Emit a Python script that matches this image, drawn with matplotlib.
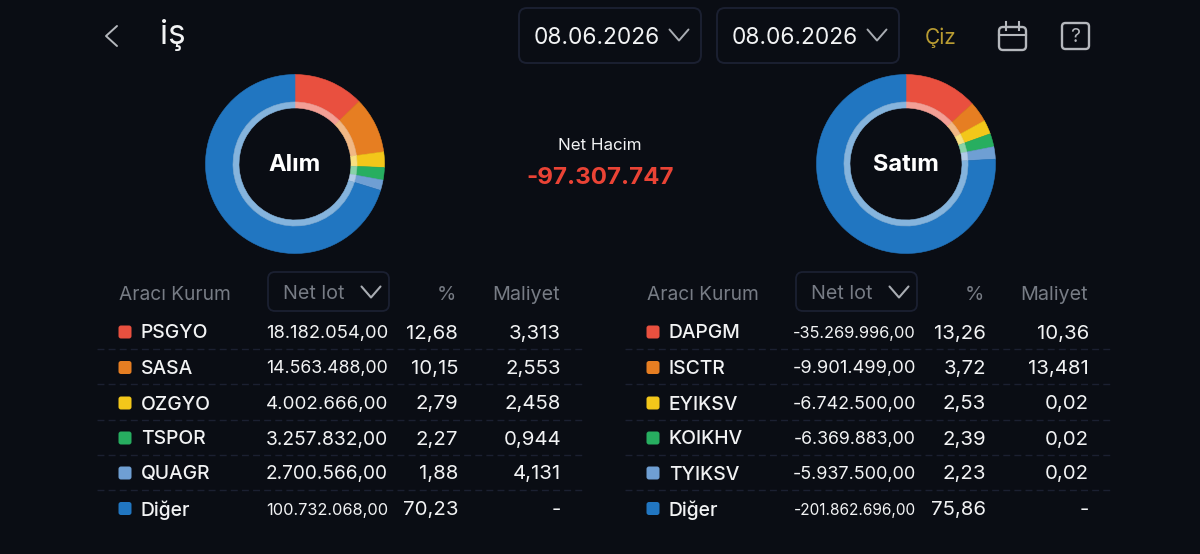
import matplotlib
matplotlib.use("Agg")
import matplotlib.pyplot as plt
from matplotlib.colors import to_rgb
from matplotlib.patches import FancyBboxPatch

plt.rcParams["font.family"] = ["Inter", "DejaVu Sans"]

BG = "#0a0d14"
BORDER = "#1b2031"
GREY = "#777c85"
WHITE = "#f2f3f4"

colors = ["#e9503f", "#e67e22", "#f3c71a", "#27ae60", "#6f9fd3", "#2176c1"]

buy_names = ["PSGYO", "SASA", "OZGYO", "TSPOR", "QUAGR", "Diğer"]
buy_lots = ["18.182.054,00", "14.563.488,00", "4.002.666,00", "3.257.832,00", "2.700.566,00", "100.732.068,00"]
buy_pct_labels = ["12,68", "10,15", "2,79", "2,27", "1,88", "70,23"]
buy_pct = [12.68, 10.15, 2.79, 2.27, 1.88, 70.23]
buy_cost = ["3,313", "2,553", "2,458", "0,944", "4,131", "-"]

sell_names = ["DAPGM", "ISCTR", "EYIKSV", "KOIKHV", "TYIKSV", "Diğer"]
sell_lots = ["-35.269.996,00", "-9.901.499,00", "-6.742.500,00", "-6.369.883,00", "-5.937.500,00", "-201.862.696,00"]
sell_pct_labels = ["13,26", "3,72", "2,53", "2,39", "2,23", "75,86"]
sell_pct = [13.26, 3.72, 2.53, 2.39, 2.23, 75.86]
sell_cost = ["10,36", "13,481", "0,02", "0,02", "0,02", "-"]

W, H = 1200, 554
fig = plt.figure(figsize=(W / 100, H / 100), dpi=100, facecolor=BG)

# full-figure axes in pixel coordinates for the app chrome and the tables
ax = fig.add_axes([0, 0, 1, 1])
ax.set_xlim(0, W)
ax.set_ylim(H, 0)
ax.axis("off")


def box(x0, y0, x1, y1, color=BORDER, lw=1.3, r=7):
    ax.add_patch(FancyBboxPatch((x0, y0), x1 - x0, y1 - y0,
                                boxstyle=f"round,pad=0,rounding_size={r}",
                                fc="none", ec=color, lw=lw))


def chevron(xm, ym, w, h, color, lw=1.5):
    ax.plot([xm - w, xm, xm + w], [ym - h, ym + h, ym - h], color=color, lw=lw,
            solid_capstyle="round", solid_joinstyle="round")


def donut(cx, cy, values, label):
    R = 89.5
    d = 2 * R + 4
    a = fig.add_axes([(cx - d / 2) / W, 1 - (cy + d / 2) / H, d / W, d / H])
    outer, _ = a.pie(values, colors=colors, startangle=90, counterclock=False, radius=R,
                     wedgeprops={"width": R - 62}, frame=False)
    # lighter inner ring over the same slices
    light = [tuple(0.55 * c + 0.45 for c in to_rgb(col)) for col in colors]
    inner, _ = a.pie(values, colors=light, startangle=90, counterclock=False, radius=62,
                     wedgeprops={"width": 6}, frame=False)
    # edges in the slice colour so no seams show between slices
    for w in list(outer) + list(inner):
        w.set_edgecolor(w.get_facecolor())
        w.set_linewidth(0.4)
    a.set_xlim(-d / 2, d / 2)
    a.set_ylim(-d / 2, d / 2)
    a.set_aspect("equal")
    a.axis("off")
    ax.text(cx, cy + 1, label, color="white", fontsize=17, fontweight="bold",
            ha="center", va="center", zorder=5)


def fit_width(t, width):
    # the app shrinks lot numbers so each fills the column
    ext = t.get_window_extent(fig.canvas.get_renderer())
    t.set_fontsize(t.get_fontsize() * width / ext.width)


def table(x, names, lots, pct_labels, costs, lot_width):
    rows = [332, 367.5, 403, 438, 473, 508.5]
    ax.text(x + 22, 295.5, "Aracı Kurum", color=GREY, fontsize=13.8, ha="left", va="center")
    box(x + 171, 272, x + 292, 311)
    ax.text(x + 186, 294, "Net lot", color=GREY, fontsize=14.2, ha="left", va="center")
    chevron(x + 274, 292, 9.5, 5.5, "#a9adb3", lw=1.5)
    ax.text(x + 359, 295.5, "%", color=GREY, fontsize=14.2, ha="right", va="center")
    ax.text(x + 463, 295.5, "Maliyet", color=GREY, fontsize=14.2, ha="right", va="center")
    for i, y in enumerate(rows):
        ax.add_patch(FancyBboxPatch((x + 21.5, y - 6.5), 13, 13,
                                    boxstyle="round,pad=0,rounding_size=2.5",
                                    fc=colors[i], ec="none"))
        ax.text(x + 44, y + 1.5, names[i], color=WHITE, fontsize=13.9, fontweight="medium",
                ha="left", va="center")
        lot = ax.text(x + 291, y + 1.5, lots[i], color=WHITE, fontsize=13,
                      ha="right", va="center")
        fit_width(lot, lot_width)
        ax.text(x + 361, y + 1.5, pct_labels[i], color=WHITE, fontsize=14.7, ha="right", va="center")
        ax.text(x + 464, y + 1.5, costs[i], color=WHITE, fontsize=14.7, ha="right", va="center")
        if i < 5:
            ax.plot([x, x + 486], [y + 16.5, y + 16.5], color=BORDER, lw=1,
                    ls=(0, (5, 3)))


# header
ax.plot([117, 106, 117], [26, 36, 46], color="#b5b8bd", lw=1.4,
        solid_capstyle="round", solid_joinstyle="round")
ax.text(160, 35, "iş", color=WHITE, fontsize=24, ha="left", va="center")

for x0, x1 in [(519, 701), (717, 899)]:
    box(x0, 8, x1, 63, lw=1.4, r=8)
    ax.text(x0 + 15, 37.5, "08.06.2026", color=WHITE, fontsize=16.3, ha="left", va="center")
    chevron(x0 + 160, 35, 9.5, 5.5, "#a9adb3", lw=1.4)

ax.text(941, 37.5, "Çiz", color="#b99c32", fontsize=15, ha="center", va="center")

# calendar icon
box(999, 27, 1026, 50, color="#b5b8bd", lw=1.7, r=4)
ax.plot([999, 1026], [35, 35], color="#b5b8bd", lw=1.5)
ax.plot([1006, 1006], [22, 30], color="#b5b8bd", lw=1.5)
ax.plot([1019, 1019], [22, 30], color="#b5b8bd", lw=1.5)

# help icon
box(1062, 23, 1089, 49, color="#b5b8bd", lw=1.7, r=3.5)
ax.text(1075.5, 37, "?", color="#b5b8bd", fontsize=14, ha="center", va="center")

# centre figures
ax.text(600, 146, "Net Hacim", color=WHITE, fontsize=12.2, ha="center", va="center")
ax.text(600, 178, "-97.307.747", color="#ea4335", fontsize=17.4, fontweight="bold",
        ha="center", va="center")

donut(295, 164, buy_pct, "Alım")
donut(906, 164, sell_pct, "Satım")

table(97, buy_names, buy_lots, buy_pct_labels, buy_cost, 122)
table(625, sell_names, sell_lots, sell_pct_labels, sell_cost, 123)

fig.savefig("out.png", dpi=100, facecolor=BG)
